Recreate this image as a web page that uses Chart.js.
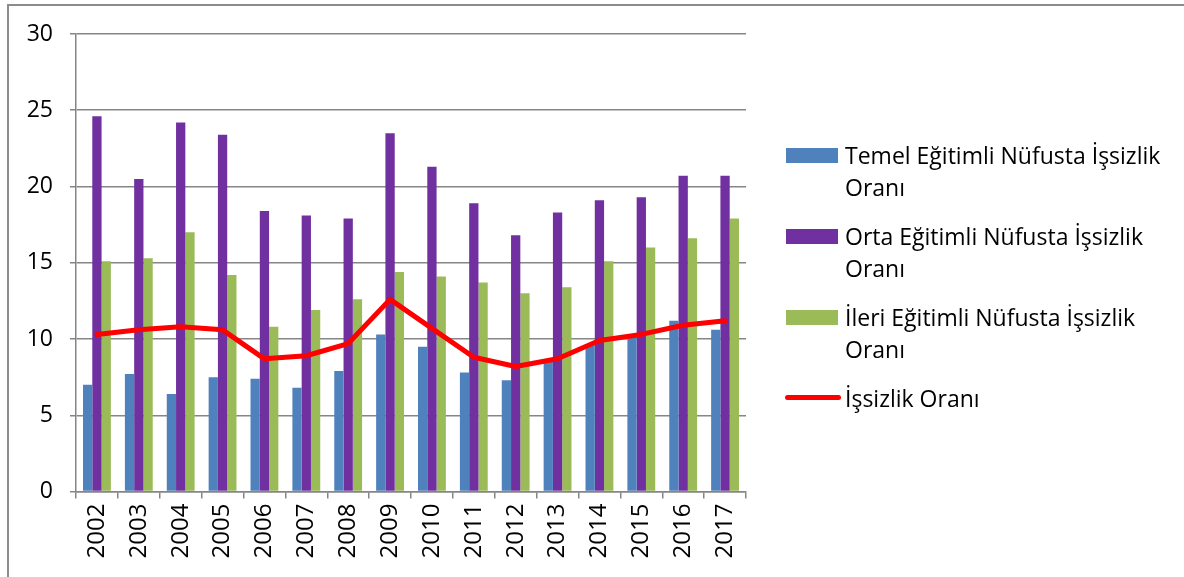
<!DOCTYPE html>
<html>
<head>
<meta charset="utf-8">
<script src="https://cdn.jsdelivr.net/npm/chart.js@4.4.1/dist/chart.umd.min.js"></script>
<style>
  html, body { margin: 0; padding: 0; background: #fff; }
  #wrap { position: relative; width: 1184px; height: 577px; overflow: hidden; }
  #frame { position: absolute; left: 7px; top: 4px; width: 1300px; height: 700px;
           border-left: 2px solid #8c8c8c; border-top: 2px solid #8c8c8c; }
  #chartBox { position: absolute; left: 0; top: 0; width: 1184px; height: 577px; }
  #legend { position: absolute; left: 786px; top: 139px; width: 398px;
            font-family: "Open Sans", sans-serif; font-size: 23px; color: #000; }
  .item { position: relative; padding-left: 59px; line-height: 32px; margin-bottom: 17px; width: 330px; white-space: normal; }
  .sw { position: absolute; left: 0; top: 9px; width: 52px; height: 15px; }
  .ln { position: absolute; left: -1px; top: 13px; width: 56px; height: 5px; border-radius: 3px; }
</style>
</head>
<body>
<div id="wrap">
  <div id="frame"></div>
  <div id="chartBox"><canvas id="c"></canvas></div>
  <div id="legend"></div>
</div>
<script>
const years = ["2002","2003","2004","2005","2006","2007","2008","2009","2010","2011","2012","2013","2014","2015","2016","2017"];
const temel = [7.0, 7.7, 6.4, 7.5, 7.4, 6.8, 7.9, 10.3, 9.5, 7.8, 7.3, 8.6, 9.6, 10.1, 11.2, 10.6];
const orta  = [24.6, 20.5, 24.2, 23.4, 18.4, 18.1, 17.9, 23.5, 21.3, 18.9, 16.8, 18.3, 19.1, 19.3, 20.7, 20.7];
const ileri = [15.1, 15.3, 17.0, 14.2, 10.8, 11.9, 12.6, 14.4, 14.1, 13.7, 13.0, 13.4, 15.1, 16.0, 16.6, 17.9];
const issizlik = [10.3, 10.6, 10.8, 10.6, 8.7, 8.9, 9.7, 12.6, 10.7, 8.8, 8.2, 8.7, 9.9, 10.3, 10.9, 11.2];
const yTicks = [0, 5, 10, 15, 20, 25, 30];

const labels = [
  "Temel Eğitimli Nüfusta İşsizlik Oranı",
  "Orta Eğitimli Nüfusta İşsizlik Oranı",
  "İleri Eğitimli Nüfusta İşsizlik Oranı",
  "İşsizlik Oranı"
];
const colors = ["#4F81BD", "#7030A0", "#9BBB59", "#FF0000"];
const GRID = "#868686";
const FONT = "'Open Sans', sans-serif";

const chart = new Chart(document.getElementById("c"), {
  data: {
    labels: years,
    datasets: [
      { type: "bar", label: labels[0], data: temel, backgroundColor: colors[0], order: 1,
        categoryPercentage: 0.665, barPercentage: 1.0 },
      { type: "bar", label: labels[1], data: orta, backgroundColor: colors[1], order: 1,
        categoryPercentage: 0.665, barPercentage: 1.0 },
      { type: "bar", label: labels[2], data: ileri, backgroundColor: colors[2], order: 1,
        categoryPercentage: 0.665, barPercentage: 1.0 },
      { type: "line", label: labels[3], data: issizlik, borderColor: colors[3], backgroundColor: colors[3],
        borderWidth: 5, pointRadius: 0, tension: 0, order: 0, borderCapStyle: "round", borderJoinStyle: "round" }
    ]
  },
  options: {
    responsive: true,
    maintainAspectRatio: false,
    animation: false,
    layout: { padding: { left: 0, right: 438, top: 34, bottom: 0 } },
    plugins: { legend: { display: false }, tooltip: { enabled: false } },
    scales: {
      x: {
        offset: true,
        grid: { display: true, offset: true, drawOnChartArea: false, drawTicks: true, tickLength: 7,
                color: GRID, lineWidth: 1.5 },
        border: { display: true, color: GRID, width: 1.5 },
        ticks: { color: "#000", font: { family: FONT, size: 24 }, maxRotation: 90, minRotation: 90,
                 autoSkip: false, padding: 5 },
        afterFit: (s) => { s.height = 85.5; }
      },
      y: {
        min: 0, max: 30,
        afterBuildTicks: (s) => { s.ticks = yTicks.map(v => ({ value: v })); },
        grid: { color: GRID, lineWidth: 1.5, drawTicks: true, tickLength: 6 },
        border: { display: true, color: GRID, width: 1.5 },
        ticks: { color: "#000", font: { family: FONT, size: 23 }, padding: 17 },
        afterFit: (s) => { s.width = 76; }
      }
    }
  }
});

const lg = document.getElementById("legend");
labels.forEach((t, i) => {
  const d = document.createElement("div");
  d.className = "item";
  const sw = document.createElement("span");
  sw.className = i === 3 ? "ln" : "sw";
  sw.style.background = colors[i];
  d.appendChild(sw);
  d.appendChild(document.createTextNode(t));
  lg.appendChild(d);
});
</script>
</body>
</html>
